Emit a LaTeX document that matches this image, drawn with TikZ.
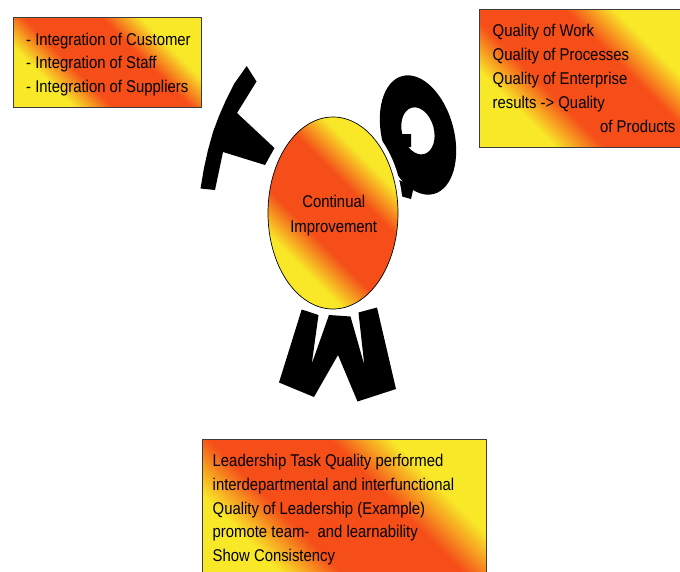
\documentclass[tikz,border=0pt]{standalone}
\usepackage{fontspec}
\setmainfont{Liberation Sans}[FakeStretch=0.875]
\usetikzlibrary{shapes.geometric}
\definecolor{tqy}{RGB}{248,232,40}
\definecolor{tqo}{RGB}{245,78,25}
\definecolor{tqframe}{RGB}{60,60,60}
\pgfdeclareverticalshading{tqmshade}{100bp}{color(0bp)=(tqy); color(30bp)=(tqy); color(40bp)=(tqo); color(60bp)=(tqo); color(70bp)=(tqy); color(100bp)=(tqy)}
\pgfdeclareverticalshading{tqeshade}{100bp}{color(0bp)=(tqy); color(31bp)=(tqy); color(41bp)=(tqo); color(59bp)=(tqo); color(69bp)=(tqy); color(100bp)=(tqy)}
\tikzset{
  tqbox/.style={draw=tqframe, line width=1.3pt, shade, shading=tqmshade, shading angle=-45, inner sep=0pt, anchor=north west},
  tqtext/.style={anchor=base west, inner sep=0pt, font=\fontsize{17}{24}\selectfont},
  tqctext/.style={anchor=base, inner sep=0pt, font=\fontsize{17}{24}\selectfont},
  letterfill/.style={fill=black}
}
\begin{document}
\begin{tikzpicture}[x=1pt,y=-1pt]
\path[use as bounding box] (0,0) rectangle (680,571);
\clip (0,0) rectangle (680,571);
\fill[white] (0,0) rectangle (680,571);

% boxes
\node[tqbox, minimum width=188pt, minimum height=90pt] (box1) at (13,17) {};
\node[tqbox, minimum width=211pt, minimum height=138pt] (box2) at (479,9) {};
\node[tqbox, minimum width=284pt, minimum height=150pt] (box3) at (202,439) {};

% box texts
\node[tqtext] (b1a) at (26,45) {- Integration of Customer};
\node[tqtext] (b1b) at (26,68.7) {- Integration of Staff};
\node[tqtext] (b1c) at (26,92.3) {- Integration of Suppliers};

\node[tqtext] (b2a) at (492.5,36.7) {Quality of Work};
\node[tqtext] (b2b) at (492.5,60.7) {Quality of Processes};
\node[tqtext] (b2c) at (492.5,84.7) {Quality of Enterprise};
\node[tqtext] (b2d) at (492.5,108.7) {results -> Quality};
\node[tqtext] (b2e) at (600,132.7) {of Products};

\node[tqtext] (b3a) at (212.5,466.7) {Leadership Task Quality performed};
\node[tqtext] (b3b) at (212.5,490.4) {interdepartmental and interfunctional};
\node[tqtext] (b3c) at (212.5,514.2) {Quality of Leadership (Example)};
\node[tqtext] (b3d) at (212.5,537.9) {promote team- \ and learnability};
\node[tqtext] (b3e) at (212.5,561.7) {Show Consistency};

% letter T
\fill[letterfill] (246.7,66) -- (256.5,81.5) -- (237,113) -- (274.5,148) -- (265,165)
  -- (223,152) -- (215,190) -- (200.5,188.5) -- (204,168) -- (208,150) -- (213,132)
  -- (219,116) -- (226,100) -- (234,84) -- cycle;

% letter M (upside down)
\fill[letterfill] (301.7,309.5) -- (318.5,315) -- (311.7,364) -- (329,315) -- (350.5,316.5)
  -- (364.3,365) -- (358.5,312.5) -- (377,307.5) -- (396,389) -- (357.5,401.5)
  -- (338,355) -- (314,397) -- (279,382.5) -- cycle;

% letter Q
\begin{scope}[shift={(418,135)}, rotate=15]
  \fill[letterfill, even odd rule] (0,0) ellipse [x radius=36, y radius=61]
    (1,-4) ellipse [x radius=16, y radius=24];
\end{scope}
\fill[letterfill] (401,134) -- (411,134) -- (411,147) -- (402,147) -- cycle;
\fill[letterfill] (394,178) -- (414,186) -- (411,199) -- (397,195) -- cycle;

% central ellipse with white halo
\fill[white] (333,213) ellipse [x radius=70, y radius=101];
\node[draw=black, line width=0.7pt, shade, shading=tqeshade, shading angle=-45, ellipse,
  minimum width=130pt, minimum height=192pt, inner sep=0pt] (ci) at (333,213) {};
\node[tqctext] (ci1) at (333.7,207) {Continual};
\node[tqctext] (ci2) at (333.7,232) {Improvement};
\end{tikzpicture}
\end{document}
